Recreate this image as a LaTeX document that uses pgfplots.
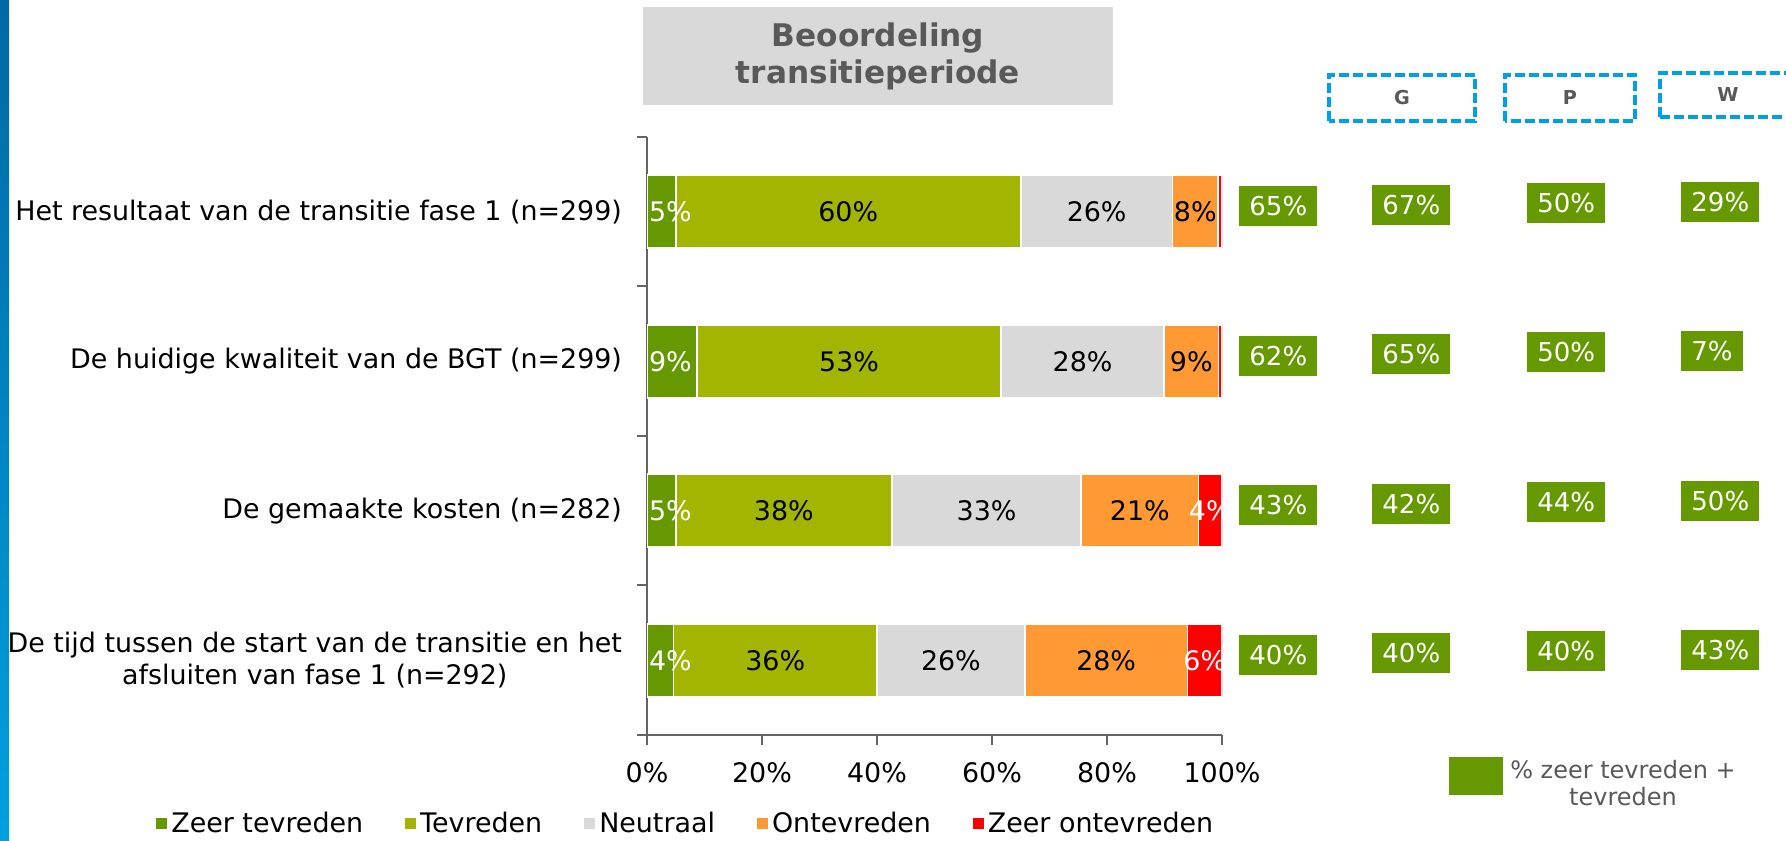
\documentclass[border=0pt]{standalone}
\usepackage{fontspec}
\setmainfont{DejaVu Sans}
\usepackage{pgfplots}
\pgfplotsset{compat=1.18}
\usepackage{pgfplotstable}
\definecolor{cZT}{RGB}{102,153,0}
\definecolor{cTV}{RGB}{162,181,0}
\definecolor{cNE}{RGB}{217,217,217}
\definecolor{cON}{RGB}{255,153,51}
\definecolor{cZO}{RGB}{255,0,0}
\definecolor{txtgray}{RGB}{89,89,89}
\definecolor{axgray}{RGB}{100,100,100}
\definecolor{dashblue}{RGB}{0,160,227}
\definecolor{stripetop}{RGB}{0,104,165}
\definecolor{stripebot}{RGB}{0,160,225}
\newcommand\mainfs{\fontsize{13.45pt}{16pt}\selectfont}
\newcommand\boxfs{\fontsize{13pt}{15pt}\selectfont}

% row 3 = top bar
\pgfplotstableread{
row zt ztl tv tvl ne nel on onl zo zol
3 5.0 5 60.0 60 26.4 26 7.9 8 0.7 0
2 8.7 9 52.9 53 28.3 28 9.5 9 0.6 0
1 5.0 5 37.6 38 32.9 33 20.4 21 4.1 4
0 4.6 4 35.4 36 25.7 26 28.3 28 6.0 6
}\bardata

\pgfplotstableread{
row all G P W
3 65 67 50 29
2 62 65 50 7
1 43 42 44 50
0 40 40 40 43
}\boxdata

\pgfplotsset{
  commongeom/.style={
    at={(323.5pt,52.5pt)}, anchor=south west,
    scale only axis, width=287.5pt, height=299pt,
    xmin=0, xmax=100, ymin=-0.5, ymax=3.5,
  },
}

\begin{document}
\begin{tikzpicture}
\useasboundingbox (0,0) rectangle (893pt,420pt);
\shade[top color=stripetop, bottom color=stripebot] (0,0) rectangle (4.5pt,420pt);

% bars
\begin{axis}[
  commongeom,
  xbar stacked, bar width=36.5pt,
  axis x line*=bottom, axis y line*=left,
  axis line style={draw=axgray, line width=1.2pt},
  xtick={0,20,40,60,80,100},
  xticklabels={0\%,20\%,40\%,60\%,80\%,100\%},
  ytick={-0.5,0.5,1.5,2.5,3.5},
  yticklabels={,,,,},
  extra y ticks={0,1,2,3},
  extra y tick labels={{De tijd tussen de start van de transitie en het\\afsluiten van fase 1 (n=292)},{De gemaakte kosten (n=282)},{De huidige kwaliteit van de BGT (n=299)},{Het resultaat van de transitie fase 1 (n=299)}},
  extra y tick style={tick style={draw=none}},
  tick align=outside,
  major tick length=5pt,
  tick style={draw=axgray, line width=1pt},
  tick label style={font=\mainfs, text=black},
  yticklabel style={align=center, xshift=-4pt},
  xticklabel style={yshift=-5.4pt},
  legend columns=5,
  legend style={at={(axis description cs:0,0)}, anchor=west, xshift=-245.5pt, yshift=-44.5pt,
    draw=none, fill=none, inner sep=0pt, font=\mainfs,
    nodes={inner xsep=2pt, inner ysep=1pt},
    /tikz/every even column/.append style={column sep=19pt}},
  legend image code/.code={\fill[#1,draw=none] (0pt,-2.5pt) rectangle (5.5pt,3pt);},
]
\addplot[fill=cZT, draw=white, line width=0.8pt] table[x=zt, y=row] \bardata;
\addlegendentry{Zeer tevreden}
\addplot[fill=cTV, draw=white, line width=0.8pt] table[x=tv, y=row] \bardata;
\addlegendentry{Tevreden}
\addplot[fill=cNE, draw=white, line width=0.8pt] table[x=ne, y=row] \bardata;
\addlegendentry{Neutraal}
\addplot[fill=cON, draw=white, line width=0.8pt] table[x=on, y=row] \bardata;
\addlegendentry{Ontevreden}
\addplot[fill=cZO, draw=white, line width=0.8pt] table[x=zo, y=row] \bardata;
\addlegendentry{Zeer ontevreden}
\end{axis}

% bar labels (on top of all bars)
\begin{axis}[
  commongeom, hide axis, clip=false,
  xbar stacked, bar width=36.5pt,
  point meta=explicit symbolic,
  visualization depends on=rawx\as\rawx,
  nodes near coords={\ifnum\pgfplotspointmeta>0 \pgfplotspointmeta\%\fi},
  every node near coord/.append style={anchor=center, font=\mainfs, inner sep=0pt},
]
\addplot[draw=none, fill=none, every node near coord/.append style={text=white, anchor=west, shift={(axis direction cs:-\rawx/2,0)}, xshift=0.8pt}] table[x=zt, y=row, meta=ztl] \bardata;
\addplot[draw=none, fill=none, every node near coord/.append style={text=black}] table[x=tv, y=row, meta=tvl] \bardata;
\addplot[draw=none, fill=none, every node near coord/.append style={text=black}] table[x=ne, y=row, meta=nel] \bardata;
\addplot[draw=none, fill=none, every node near coord/.append style={text=black}] table[x=on, y=row, meta=onl] \bardata;
\addplot[draw=none, fill=none, every node near coord/.append style={text=white}] table[x=zo, y=row, meta=zol] \bardata;
\end{axis}

% green value boxes
\begin{axis}[
  commongeom, hide axis, clip=false,
  point meta=explicit symbolic,
  nodes near coords={\pgfplotspointmeta\%},
  every node near coord/.append style={anchor=west, fill=cZT, text=white, inner xsep=5pt, inner ysep=0pt, minimum height=20pt, font=\boxfs},
]
\addplot[draw=none, mark=none, every node near coord/.append style={yshift=2.7pt}] table[x expr=102.96, y=row, meta=all] \boxdata;
\addplot[draw=none, mark=none, every node near coord/.append style={yshift=3.6pt}] table[x expr=126.09, y=row, meta=G] \boxdata;
\addplot[draw=none, mark=none, every node near coord/.append style={yshift=4.5pt}] table[x expr=153.04, y=row, meta=P] \boxdata;
\addplot[draw=none, mark=none, every node near coord/.append style={yshift=5pt}] table[x expr=179.83, y=row, meta=W] \boxdata;
\end{axis}

% title
\node[fill=cNE, minimum width=235pt, minimum height=49pt, align=center, text=txtgray,
  font=\fontsize{15.6pt}{18.5pt}\selectfont\bfseries] at (439pt,392pt) {\raisebox{-1pt}{Beoordeling}\\[0pt]\raisebox{-1pt}{transitieperiode}};

% dashed headers
\begin{scope}[dashblue, line width=1.6pt, dash pattern=on 5pt off 2pt]
\draw (664.5pt,359.5pt) rectangle (737.5pt,382.5pt);
\draw (752.5pt,359.5pt) rectangle (817.5pt,382.5pt);
\draw (830pt,361.5pt) rectangle (905pt,383.5pt);
\end{scope}
\node[text=txtgray, font=\fontsize{9.6pt}{11pt}\selectfont\bfseries] at (701pt,371pt) {G};
\node[text=txtgray, font=\fontsize{9.6pt}{11pt}\selectfont\bfseries] at (785pt,371pt) {P};
\node[text=txtgray, font=\fontsize{9.6pt}{11pt}\selectfont\bfseries] at (864pt,372.5pt) {W};

% side legend
\fill[cZT] (724.5pt,22.5pt) rectangle (751.5pt,41.5pt);
\node[align=center, text=txtgray, font=\fontsize{12pt}{13.5pt}\selectfont] at (811.5pt,28.5pt) {\% zeer tevreden +\\tevreden};
\end{tikzpicture}
\end{document}
